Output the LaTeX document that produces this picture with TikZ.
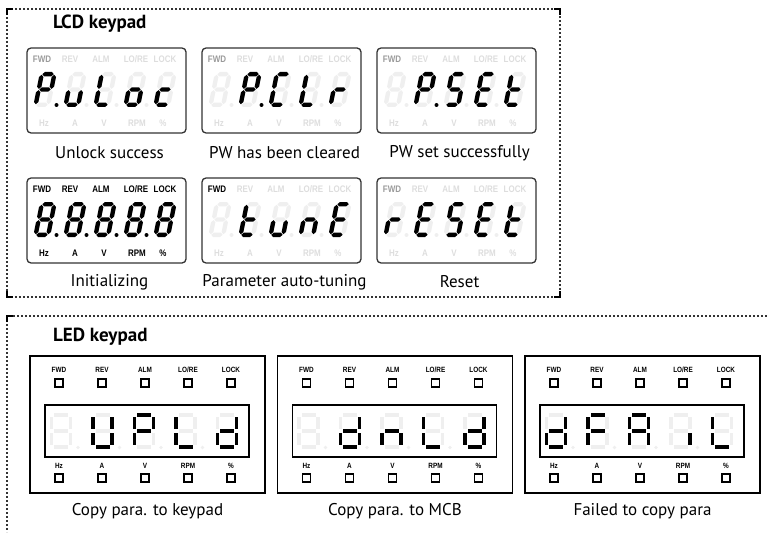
\documentclass[tikz,border=0pt]{standalone}
\usepackage{fontspec}
\setmainfont{PT Sans}
\newfontfamily\labfont[FakeStretch=0.84]{Liberation Sans}
\definecolor{segoff}{HTML}{EFEFEF}
\definecolor{laboff}{HTML}{DDDDDD}
\definecolor{fwdgray}{HTML}{9A9A9A}
\definecolor{framecol}{HTML}{333333}
\colorlet{cc}{black}
\newcommand\segcolor[1]{\ifnum#1=1 \colorlet{cc}{black}\else\colorlet{cc}{segoff}\fi}
% LCD hexagonal segments
\newcommand\lhseg[3]{\fill[cc] ({#1+0.6},#3) -- ({#1+2.8},{#3+2.2}) -- ({#2-2.8},{#3+2.2}) -- ({#2-0.6},#3) -- ({#2-2.8},{#3-2.2}) -- ({#1+2.8},{#3-2.2}) -- cycle;}
\newcommand\lvseg[3]{\fill[cc] (#1,{#2+0.6}) -- ({#1+2.2},{#2+2.8}) -- ({#1+2.2},{#3-2.8}) -- (#1,{#3-0.6}) -- ({#1-2.2},{#3-2.8}) -- ({#1-2.2},{#2+2.8}) -- cycle;}
\def\lcddigit#1#2#3#4#5#6#7{%
  \segcolor{#1}\lhseg{2.2}{14.8}{32.8}%
  \segcolor{#2}\lvseg{14.8}{17.5}{32.8}%
  \segcolor{#3}\lvseg{14.8}{2.2}{17.5}%
  \segcolor{#4}\lhseg{2.2}{14.8}{2.2}%
  \segcolor{#5}\lvseg{2.2}{2.2}{17.5}%
  \segcolor{#6}\lvseg{2.2}{17.5}{32.8}%
  \segcolor{#7}\lhseg{2.2}{14.8}{17.5}}
\newcommand\lcdd[3]{\begin{scope}[shift={(#1,#2)},xslant=0.2]\lcddigit#3\end{scope}}
\def\lcddots#1#2#3#4{%
  \segcolor{#1}\fill[cc] (29.5,-57) circle (2);
  \segcolor{#2}\fill[cc] (59.5,-57) circle (2);
  \segcolor{#3}\fill[cc] (89.5,-57) circle (2);
  \segcolor{#4}\fill[cc] (119.5,-57) circle (2);}
\newcommand\lcdnum[6]{\lcdd{6}{-59}{#1}\lcdd{36}{-59}{#2}\lcdd{66}{-59}{#3}\lcdd{96}{-59}{#4}\lcdd{126}{-59}{#5}\lcddots#6}
\newcommand\lcdframe[3]{% fwd colour, other top colour, bottom colour
  \draw[lcdbox] (0,0) rectangle (159,-85);
  \node[lcdlab,text=#1] (fwd) at (15,-11) {FWD};
  \node[lcdlab,text=#2] (rev) at (43,-11) {REV};
  \node[lcdlab,text=#2] (alm) at (74,-11) {ALM};
  \node[lcdlab,text=#2] (lore) at (109,-11) {LO/RE};
  \node[lcdlab,text=#2] (lock) at (138,-11) {LOCK};
  \node[lcdlab,text=#3] (hz) at (17,-75) {Hz};
  \node[lcdlab,text=#3] (a) at (48,-75) {A};
  \node[lcdlab,text=#3] (v) at (77,-75) {V};
  \node[lcdlab,text=#3] (rpm) at (110,-75) {RPM};
  \node[lcdlab,text=#3] (pct) at (136,-75) {\%};}
% LED digits
\def\leddigit#1#2#3#4#5#6#7{%
  \segcolor{#1}\fill[cc] (-7,14.2) rectangle (7,18);
  \segcolor{#2}\fill[cc] (7.6,2.4) rectangle (11.4,13.6);
  \segcolor{#3}\fill[cc] (7.6,-13.6) rectangle (11.4,-2.4);
  \segcolor{#4}\fill[cc] (-7,-18) rectangle (7,-14.2);
  \segcolor{#5}\fill[cc] (-11.4,-13.6) rectangle (-7.6,-2.4);
  \segcolor{#6}\fill[cc] (-11.4,2.4) rectangle (-7.6,13.6);
  \segcolor{#7}\fill[cc] (-7,-1.9) rectangle (7,1.9);}
\newcommand\ledd[2]{\begin{scope}[shift={(#1,-75)}]\leddigit#2\end{scope}}
\newcommand\lednum[5]{\ledd{31}{#1}\ledd{72.5}{#2}\ledd{114}{#3}\ledd{155.5}{#4}\ledd{197}{#5}%
  \colorlet{cc}{segoff}\foreach \x in {48,89.5,131,172.5}{\fill[cc] (\x,-91.5) circle (1.8);}}
\newcommand\ledframe{%
  \draw[ledbox] (0,0) rectangle (235,-137);
  \draw[ledwin] (15,-49) rectangle (219,-101);
  \node[ledlab] (fwd) at (29,-13.5) {FWD};
  \node[ledlab] (rev) at (72,-13.5) {REV};
  \node[ledlab] (alm) at (115,-13.5) {ALM};
  \node[ledlab] (lore) at (158,-13.5) {LO/RE};
  \node[ledlab] (lock) at (201,-13.5) {LOCK};
  \node[ledlab] (hz) at (29,-110) {Hz};
  \node[ledlab] (a) at (72,-110) {A};
  \node[ledlab] (v) at (115,-110) {V};
  \node[ledlab] (rpm) at (158,-110) {RPM};
  \node[ledlab] (pct) at (201,-110) {\%};
  \foreach \x in {29,72,115,158,201}{\draw[ledsq] (\x-4,-23) rectangle (\x+4,-31);
    \draw[ledsq] (\x-4,-118) rectangle (\x+4,-126);}}
\begin{document}
\begin{tikzpicture}[x=1pt,y=1pt,
  lcdlab/.style={font=\labfont\bfseries\fontsize{9.5}{9.5}\selectfont, inner sep=0pt},
  ledlab/.style={font=\labfont\bfseries\fontsize{7.6}{7.6}\selectfont, inner sep=0pt},
  caption/.style={font=\fontsize{17}{17}\selectfont, inner sep=0pt},
  title/.style={font=\bfseries\fontsize{19}{19}\selectfont, inner sep=0pt, anchor=west},
  lcdbox/.style={draw=black!80, line width=1.3pt, rounded corners=4pt},
  ledbox/.style={draw=black, line width=1.7pt},
  ledwin/.style={draw=black, line width=1.3pt},
  ledsq/.style={draw=black, line width=1.1pt},
  frame/.style={draw=framecol, line width=1.1pt, dash pattern=on 2.4pt off 1.6pt},
  corner/.style={draw=black, line width=1.5pt}]
\useasboundingbox (0,0) rectangle (767,-532);
% frames
\draw[frame] (7,-9) rectangle (560,-297);
\draw[corner] (7,-15) -- (7,-9) -- (13,-9);
\draw[corner] (554,-9) -- (560,-9) -- (560,-15);
\draw[corner] (7,-291) -- (7,-297) -- (13,-297);
\draw[corner] (554,-297) -- (560,-297) -- (560,-291);
\draw[frame] (767,-316) -- (7,-316) -- (7,-532);
\draw[corner] (7,-322) -- (7,-316) -- (13,-316);
\node[title] (lcdtitle) at (53,-24) {LCD keypad};
\node[title] (ledtitle) at (53,-337) {LED keypad};
% LCD displays
\begin{scope}[shift={(27,-48)},name prefix=l1-]
  \lcdframe{fwdgray}{laboff}{laboff}
  \lcdnum{1100111}{0011100}{0001110}{0011101}{0001101}{1000}
\end{scope}
\begin{scope}[shift={(202,-48)},name prefix=l2-]
  \lcdframe{fwdgray}{laboff}{laboff}
  \lcdnum{0000000}{1100111}{1001110}{0001110}{0000101}{0100}
\end{scope}
\begin{scope}[shift={(377,-48)},name prefix=l3-]
  \lcdframe{fwdgray}{laboff}{laboff}
  \lcdnum{0000000}{1100111}{1011011}{1001111}{0001111}{0100}
\end{scope}
\begin{scope}[shift={(27,-178)},name prefix=l4-]
  \lcdframe{black}{black}{black}
  \lcdnum{1111111}{1111111}{1111111}{1111111}{1111111}{1111}
\end{scope}
\begin{scope}[shift={(202,-178)},name prefix=l5-]
  \lcdframe{black}{laboff}{laboff}
  \lcdnum{0000000}{0001111}{0011100}{0010101}{1001111}{0000}
\end{scope}
\begin{scope}[shift={(377,-178)},name prefix=l6-]
  \lcdframe{fwdgray}{laboff}{laboff}
  \lcdnum{0000101}{1001111}{1011011}{1001111}{0001111}{0000}
\end{scope}
\node[caption] (c1) at (109.5,-153) {Unlock success};
\node[caption] (c2) at (284.5,-153) {PW has been cleared};
\node[caption] (c3) at (459.5,-153) {PW set successfully};
\node[caption] (c4) at (109.5,-282) {Initializing};
\node[caption] (c5) at (284.5,-282) {Parameter auto-tuning};
\node[caption] (c6) at (459.5,-282) {Reset};
% LED displays
\begin{scope}[shift={(30,-356)},name prefix=d1-]
  \ledframe
  \lednum{0000000}{0111110}{1100111}{0001110}{0111101}
\end{scope}
\begin{scope}[shift={(277.5,-356)},name prefix=d2-]
  \ledframe
  \lednum{0000000}{0111101}{0010101}{0001110}{0111101}
\end{scope}
\begin{scope}[shift={(525,-356)},name prefix=d3-]
  \ledframe
  \lednum{0111101}{1000111}{1110111}{0010000}{0001110}
\end{scope}
\node[caption] (c7) at (147.5,-511) {Copy para. to keypad};
\node[caption] (c8) at (395,-511) {Copy para. to MCB};
\node[caption] (c9) at (642.5,-511) {Failed to copy para};
\end{tikzpicture}
\end{document}
